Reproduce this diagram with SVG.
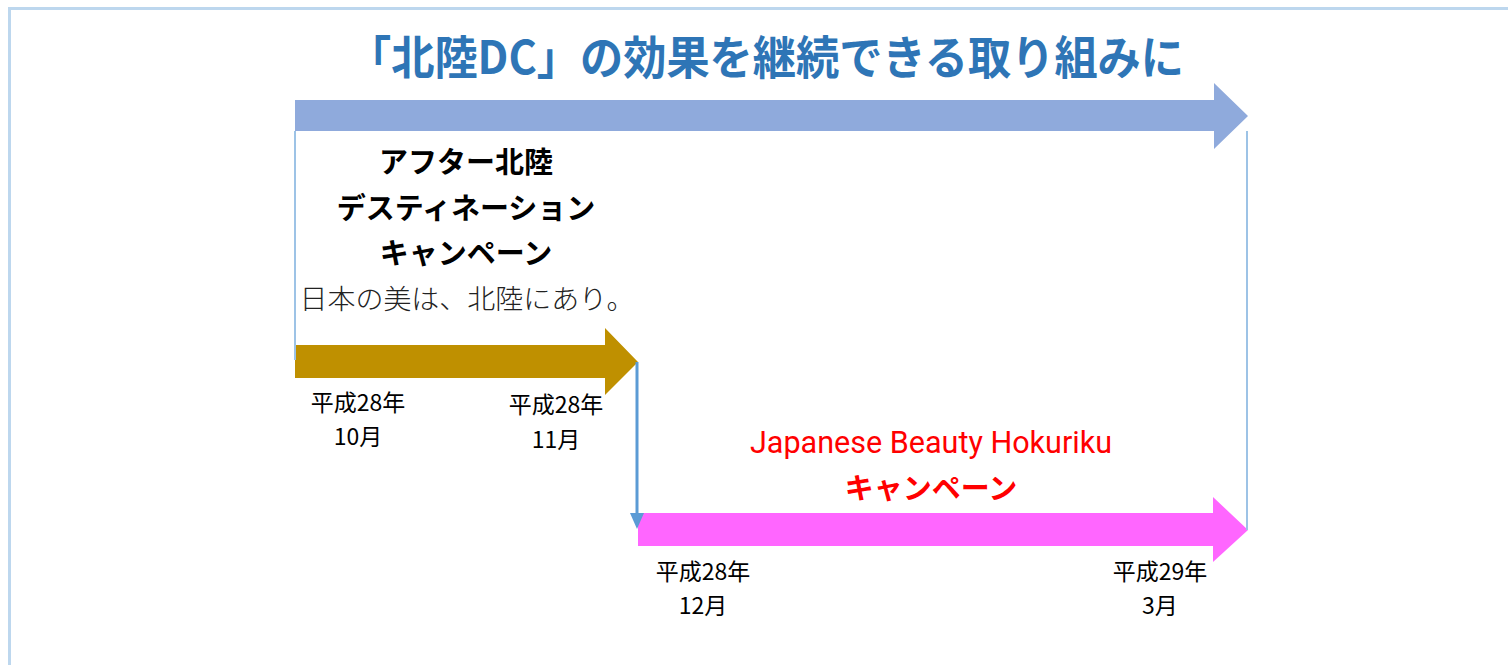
<svg xmlns="http://www.w3.org/2000/svg" width="1508" height="665" viewBox="0 0 1508 665">
<defs>
<style>
.jp{font-family:"Noto Sans CJK JP","Liberation Sans",sans-serif}
.title{font-size:46px;font-weight:bold;fill:#2E75B6}
.h{font-size:29px;font-weight:bold;fill:#000}
.sub{font-size:27px;fill:#222;font-weight:300}
.d{font-size:23px;fill:#000}
.red{fill:#FF0000}
.vline{stroke:#9DC3E6;stroke-width:2;fill:none}
</style>
</defs>
<rect width="1508" height="665" fill="#fff"/>
<path d="M9.5,665 V8.5 H1508" fill="none" stroke="#BDD7EE" stroke-width="3"/>
<g id="title"><text class="jp title" x="766" y="74" text-anchor="middle" textLength="836" lengthAdjust="spacingAndGlyphs">「北陸DC」の効果を継続できる取り組みに</text></g>
<g id="arrow-main"><path d="M295,100 H1214 V83 L1248,116 L1214,149 V131 H295 Z" fill="#8FAADC"/></g>
<g id="arrow-after"><path d="M295,345 H605 V328 L638,362 L605,395 V378 H295 Z" fill="#BF9000"/></g>
<g id="arrow-jbh"><path d="M638,513 H1213 V497 L1248,530 L1213,562 V546 H638 Z" fill="#FF66FF"/></g>
<g id="connectors">
<line class="vline" x1="295" y1="131" x2="295" y2="360"/>
<line class="vline" x1="1247" y1="131" x2="1247" y2="530"/>
<line x1="637" y1="362" x2="637" y2="516" stroke="#5B9BD5" stroke-width="3"/>
<path d="M630,513 L644,513 L637,529 Z" fill="#5B9BD5"/>
</g>
<g id="after-label">
<text class="jp h" x="466" y="173" text-anchor="middle">アフター北陸</text>
<text class="jp h" x="466" y="219" text-anchor="middle">デスティネーション</text>
<text class="jp h" x="466" y="264" text-anchor="middle">キャンペーン</text>
<text class="jp sub" x="467" y="309" text-anchor="middle" textLength="335" lengthAdjust="spacingAndGlyphs">日本の美は、北陸にあり。</text>
</g>
<g id="jbh-label">
<text class="red" x="931" y="453" text-anchor="middle" font-family="Roboto,'Liberation Sans',sans-serif" font-size="32" textLength="362" lengthAdjust="spacingAndGlyphs">Japanese Beauty Hokuriku</text>
<text class="jp h red" x="931" y="499" text-anchor="middle">キャンペーン</text>
</g>
<g id="date-1"><text class="jp d" x="358" y="411" text-anchor="middle">平成28年</text><text class="jp d" x="358" y="445" text-anchor="middle">10月</text></g>
<g id="date-2"><text class="jp d" x="556" y="413" text-anchor="middle">平成28年</text><text class="jp d" x="556" y="448" text-anchor="middle">11月</text></g>
<g id="date-3"><text class="jp d" x="703" y="580" text-anchor="middle">平成28年</text><text class="jp d" x="703" y="614" text-anchor="middle">12月</text></g>
<g id="date-4"><text class="jp d" x="1160" y="580" text-anchor="middle">平成29年</text><text class="jp d" x="1160" y="614" text-anchor="middle">3月</text></g>
</svg>
